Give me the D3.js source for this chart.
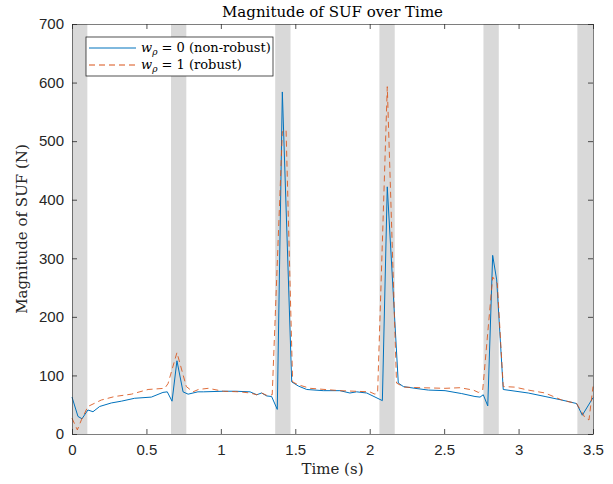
<!DOCTYPE html>
<html>
<head>
<meta charset="utf-8">
<script src="https://cdn.jsdelivr.net/npm/d3@7"></script>
<style>
  body { margin: 0; background: #fff; }
  svg { display: block; }
</style>
</head>
<body>
<div id="chart"></div>
<script>
const
  width = 613,
  height = 484;

const margin = {top: 24, right: 20, bottom: 50, left: 72};

// shaded time windows (s)
const bands = [[0, 0.103], [0.665, 0.768], [1.365, 1.468], [2.065, 2.168], [2.764, 2.867], [3.395, 3.5]];

// w_rho = 0 (non-robust)
const timeA = [0, 0.04, 0.067, 0.107, 0.141, 0.186, 0.264, 0.331, 0.421, 0.533, 0.611, 0.64, 0.672, 0.705, 0.746,
  0.78, 0.846, 0.882, 1.016, 1.1, 1.196, 1.241, 1.274, 1.308, 1.341, 1.379, 1.413, 1.476, 1.52, 1.577, 1.688,
  1.8, 1.867, 1.912, 1.98, 2.085, 2.118, 2.192, 2.226, 2.304, 2.394, 2.506, 2.618, 2.707, 2.741, 2.763, 2.793,
  2.826, 2.853, 2.897, 3.065, 3.178, 3.29, 3.39, 3.428, 3.5];
const sufA = [63, 30, 26, 41, 38, 47, 53, 56, 61, 63, 71, 72, 56, 125, 72,
  68, 72, 72, 73, 73, 72, 67, 70, 65, 64, 42, 584, 89, 82, 76, 74,
  74, 70, 72, 70, 57, 422, 87, 81, 78, 75, 74, 69, 64, 63, 67, 48,
  305, 263, 76, 70, 64, 58, 52, 32, 62];

// w_rho = 1 (robust)
const timeB = [0, 0.036, 0.063, 0.107, 0.197, 0.287, 0.399, 0.511, 0.623, 0.645, 0.705, 0.768, 0.813, 0.849,
  0.915, 1.016, 1.129, 1.196, 1.241, 1.274, 1.308, 1.345, 1.413, 1.438, 1.482, 1.52, 1.6, 1.7, 1.8, 1.9, 2.0,
  2.035, 2.053, 2.118, 2.18, 2.23, 2.35, 2.506, 2.606, 2.696, 2.73, 2.759, 2.826, 2.857, 2.897, 2.976, 3.065,
  3.178, 3.29, 3.39, 3.446, 3.473, 3.5];
const sufB = [27, 7, 24, 47, 58, 64, 68, 76, 78, 86, 139, 81, 72, 76,
  78, 73, 72, 70, 67, 70, 66, 67, 516, 520, 89, 84, 78, 76, 74, 73, 72,
  68, 70, 593, 87, 80, 79, 78, 79, 75, 71, 75, 268, 257, 81, 80, 75,
  70, 58, 52, 28, 24, 81];

const xTicks = [0, 0.5, 1, 1.5, 2, 2.5, 3, 3.5];
const yTicks = [0, 100, 200, 300, 400, 500, 600, 700];

const svg = d3.select("#chart")
  .append("svg")
  .attr("width", width)
  .attr("height", height);

const x = d3.scaleLinear()
  .domain([0, 3.5])
  .range([margin.left, width - margin.right]);

const y = d3.scaleLinear()
  .domain([0, 700])
  .range([height - margin.bottom, margin.top]);

// grey windows
svg.append("g")
  .selectAll("rect")
  .data(bands)
  .enter().append("rect")
  .attr("x", d => x(d[0]))
  .attr("width", d => x(d[1]) - x(d[0]))
  .attr("y", y(700))
  .attr("height", y(0) - y(700))
  .attr("fill", "#d9d9d9");

const line = d3.line()
  .x(d => x(d[0]))
  .y(d => y(d[1]));

svg.append("path")
  .datum(d3.zip(timeA, sufA))
  .attr("d", line)
  .attr("fill", "none")
  .attr("stroke", "#0072BD")
  .attr("stroke-width", 1);

svg.append("path")
  .datum(d3.zip(timeB, sufB))
  .attr("d", line)
  .attr("fill", "none")
  .attr("stroke", "#D95319")
  .attr("stroke-width", 1)
  .attr("stroke-dasharray", "6,4")
  .attr("opacity", 0.85);

// axes, ticks pointing inward on all sides
const axisColor = "#262626";
const tickFont = "Liberation Sans, Arial, sans-serif";

const gx = svg.append("g")
  .attr("transform", "translate(0," + y(0) + ")")
  .call(d3.axisBottom(x).tickValues(xTicks).tickSizeInner(-5).tickSizeOuter(0).tickPadding(10)
    .tickFormat(d3.format("")));
const gxTop = svg.append("g")
  .attr("transform", "translate(0," + y(700) + ")")
  .call(d3.axisTop(x).tickValues(xTicks).tickSizeInner(-5).tickSizeOuter(0).tickFormat(""));
const gy = svg.append("g")
  .attr("transform", "translate(" + x(0) + ",0)")
  .call(d3.axisLeft(y).tickValues(yTicks).tickSizeInner(-5).tickSizeOuter(0).tickPadding(8));
const gyRight = svg.append("g")
  .attr("transform", "translate(" + x(3.5) + ",0)")
  .call(d3.axisRight(y).tickValues(yTicks).tickSizeInner(-5).tickSizeOuter(0).tickFormat(""));

[gx, gxTop, gy, gyRight].forEach(g => {
  g.select(".domain").attr("stroke", axisColor).attr("stroke-width", 0.8).attr("opacity", 0.75);
  g.selectAll(".tick line").attr("stroke", axisColor).attr("stroke-width", 0.8);
  g.selectAll(".tick text")
    .attr("fill", axisColor)
    .style("font-family", tickFont)
    .style("font-size", "15px");
});

// titles
const serif = "DejaVu Serif, serif";
const midX = (x(0) + x(3.5)) / 2;

svg.append("text")
  .attr("x", midX)
  .attr("y", 17)
  .attr("text-anchor", "middle")
  .style("font-family", serif)
  .style("font-size", "15px")
  .attr("fill", "#000")
  .text("Magnitude of SUF over Time");

svg.append("text")
  .attr("x", midX)
  .attr("y", 474)
  .attr("text-anchor", "middle")
  .style("font-family", serif)
  .style("font-size", "15px")
  .attr("fill", "#262626")
  .text("Time (s)");

svg.append("text")
  .attr("transform", "translate(27," + (y(350)) + ") rotate(-90)")
  .attr("text-anchor", "middle")
  .style("font-family", serif)
  .style("font-size", "15px")
  .attr("fill", "#262626")
  .text("Magnitude of SUF (N)");

// legend
const legend = svg.append("g").attr("transform", "translate(86,37)");
legend.append("rect")
  .attr("width", 187)
  .attr("height", 39)
  .attr("fill", "#fff")
  .attr("stroke", axisColor)
  .attr("stroke-width", 0.8);

const legendItems = [
  {color: "#0072BD", dash: null, label: "0 (non-robust)"},
  {color: "#D95319", dash: "6,4", label: "1 (robust)"}
];

legendItems.forEach((d, i) => {
  const row = legend.append("g").attr("transform", "translate(0," + (11 + i * 17) + ")");
  row.append("line")
    .attr("x1", 3).attr("x2", 50)
    .attr("stroke", d.color)
    .attr("stroke-width", 1)
    .attr("stroke-dasharray", d.dash);
  const t = row.append("text")
    .attr("x", 55)
    .attr("y", 4)
    .style("font-family", serif)
    .style("font-size", "13px");
  t.append("tspan").style("font-style", "italic").text("w");
  t.append("tspan").attr("dy", 3).style("font-size", "9px").style("font-style", "italic").text("ρ");
  t.append("tspan").attr("dy", -3).text(" = " + d.label);
});
</script>
</body>
</html>
